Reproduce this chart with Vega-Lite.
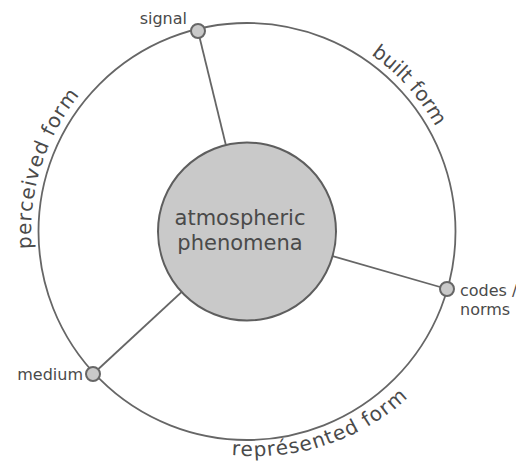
{
  "$schema": "https://vega.github.io/schema/vega-lite/v6.json",
  "width": 494,
  "height": 459,
  "autosize": {"type": "none"},
  "padding": {"left": 0, "top": 2, "right": 22, "bottom": 0},
  "background": "white",
  "config": {"view": {"stroke": null}, "text": {"font": "DejaVu Sans", "color": "#4a4a4a"}},
  "datasets": {
    "center": [{"x": 0, "y": 0}],
    "nodes": [
      {"node": "signal", "x0": 0, "y0": 0, "x": -49, "y": 200.5},
      {"node": "codes", "x0": 0, "y0": 0, "x": 200, "y": -57.5},
      {"node": "medium", "x0": 0, "y0": 0, "x": -154, "y": -142.5}
    ],
    "arcText": [
      {"label": "perceived form", "ch": "p", "th": 267.1, "r": 216, "rot": 267.1},
      {"label": "perceived form", "ch": "e", "th": 270.73, "r": 216, "rot": 270.73},
      {"label": "perceived form", "ch": "r", "th": 273.7, "r": 216, "rot": 273.7},
      {"label": "perceived form", "ch": "c", "th": 276.49, "r": 216, "rot": 276.49},
      {"label": "perceived form", "ch": "e", "th": 279.87, "r": 216, "rot": 279.87},
      {"label": "perceived form", "ch": "i", "th": 282.46, "r": 216, "rot": 282.46},
      {"label": "perceived form", "ch": "v", "th": 284.98, "r": 216, "rot": 284.98},
      {"label": "perceived form", "ch": "e", "th": 288.48, "r": 216, "rot": 288.48},
      {"label": "perceived form", "ch": "d", "th": 292.1, "r": 216, "rot": 292.1},
      {"label": "perceived form", "ch": "f", "th": 296.81, "r": 216, "rot": 296.81},
      {"label": "perceived form", "ch": "o", "th": 299.61, "r": 216, "rot": 299.61},
      {"label": "perceived form", "ch": "r", "th": 302.57, "r": 216, "rot": 302.57},
      {"label": "perceived form", "ch": "m", "th": 306.59, "r": 216, "rot": 306.59},
      {"label": "built form", "ch": "b", "th": 36.7, "r": 216, "rot": 36.7},
      {"label": "built form", "ch": "u", "th": 40.08, "r": 216, "rot": 40.08},
      {"label": "built form", "ch": "i", "th": 42.5, "r": 216, "rot": 42.5},
      {"label": "built form", "ch": "l", "th": 43.98, "r": 216, "rot": 43.98},
      {"label": "built form", "ch": "t", "th": 45.76, "r": 216, "rot": 45.76},
      {"label": "built form", "ch": "f", "th": 49.43, "r": 216, "rot": 49.43},
      {"label": "built form", "ch": "o", "th": 52.0, "r": 216, "rot": 52.0},
      {"label": "built form", "ch": "r", "th": 54.72, "r": 216, "rot": 54.72},
      {"label": "built form", "ch": "m", "th": 58.4, "r": 216, "rot": 58.4},
      {"label": "représented form", "ch": "r", "th": 182.9, "r": 224, "rot": 2.9},
      {"label": "représented form", "ch": "e", "th": 180.07, "r": 224.4, "rot": 0.07},
      {"label": "représented form", "ch": "p", "th": 176.61, "r": 225, "rot": -3.39},
      {"label": "représented form", "ch": "r", "th": 173.72, "r": 225.4, "rot": -6.28},
      {"label": "représented form", "ch": "é", "th": 170.89, "r": 225.9, "rot": -9.11},
      {"label": "représented form", "ch": "s", "th": 167.75, "r": 226.4, "rot": -12.25},
      {"label": "représented form", "ch": "e", "th": 164.62, "r": 226.9, "rot": -15.38},
      {"label": "représented form", "ch": "n", "th": 161.17, "r": 227.4, "rot": -18.83},
      {"label": "représented form", "ch": "t", "th": 158.33, "r": 227.9, "rot": -21.67},
      {"label": "représented form", "ch": "e", "th": 155.55, "r": 228.3, "rot": -24.45},
      {"label": "représented form", "ch": "d", "th": 152.1, "r": 228.8, "rot": -27.9},
      {"label": "représented form", "ch": "f", "th": 147.62, "r": 229.5, "rot": -32.38},
      {"label": "représented form", "ch": "o", "th": 144.95, "r": 230.0, "rot": -35.05},
      {"label": "représented form", "ch": "r", "th": 142.13, "r": 230.4, "rot": -37.87},
      {"label": "représented form", "ch": "m", "th": 138.3, "r": 231.0, "rot": -41.7}
    ]
  },
  "layer": [
    {
      "data": {"name": "center"},
      "mark": {"type": "point", "shape": "circle", "size": 173889, "filled": false, "stroke": "#666666", "strokeWidth": 1.8, "opacity": 1},
      "encoding": {
        "x": {"field": "x", "type": "quantitative", "scale": {"domain": [-247, 247], "nice": false, "zero": false}, "axis": null},
        "y": {"field": "y", "type": "quantitative", "scale": {"domain": [-229.5, 229.5], "nice": false, "zero": false}, "axis": null}
      }
    },
    {
      "data": {"name": "nodes"},
      "mark": {"type": "rule", "stroke": "#666666", "strokeWidth": 1.8},
      "encoding": {
        "x": {"field": "x0", "type": "quantitative", "axis": null},
        "y": {"field": "y0", "type": "quantitative", "axis": null},
        "x2": {"field": "x"},
        "y2": {"field": "y"}
      }
    },
    {
      "data": {"name": "center"},
      "mark": {"type": "point", "shape": "circle", "size": 31684, "filled": true, "fill": "#c9c9c9", "stroke": "#5e5e5e", "strokeWidth": 2, "opacity": 1},
      "encoding": {
        "x": {"field": "x", "type": "quantitative", "axis": null},
        "y": {"field": "y", "type": "quantitative", "axis": null}
      }
    },
    {
      "data": {"name": "nodes"},
      "mark": {"type": "point", "shape": "circle", "size": 196, "filled": true, "fill": "#c9c9c9", "stroke": "#666666", "strokeWidth": 2, "opacity": 1},
      "encoding": {
        "x": {"field": "x", "type": "quantitative", "axis": null},
        "y": {"field": "y", "type": "quantitative", "axis": null}
      }
    },
    {
      "data": {"name": "center"},
      "mark": {"type": "text", "text": ["atmospheric", "phenomena"], "fontSize": 21, "lineHeight": 25, "align": "center", "baseline": "alphabetic", "dx": -7, "dy": -6.5},
      "encoding": {
        "x": {"field": "x", "type": "quantitative", "axis": null},
        "y": {"field": "y", "type": "quantitative", "axis": null}
      }
    },
    {
      "data": {"name": "nodes"},
      "transform": [{"filter": "datum.node === 'signal'"}],
      "mark": {"type": "text", "fontSize": 16, "align": "right", "baseline": "alphabetic", "dx": -11, "dy": -7},
      "encoding": {
        "x": {"field": "x", "type": "quantitative", "axis": null},
        "y": {"field": "y", "type": "quantitative", "axis": null},
        "text": {"field": "node"}
      }
    },
    {
      "data": {"name": "nodes"},
      "transform": [{"filter": "datum.node === 'medium'"}],
      "mark": {"type": "text", "fontSize": 16, "align": "right", "baseline": "alphabetic", "dx": -10, "dy": 6},
      "encoding": {
        "x": {"field": "x", "type": "quantitative", "axis": null},
        "y": {"field": "y", "type": "quantitative", "axis": null},
        "text": {"field": "node"}
      }
    },
    {
      "data": {"name": "nodes"},
      "transform": [{"filter": "datum.node === 'codes'"}],
      "mark": {"type": "text", "text": ["codes /", "norms"], "fontSize": 16, "lineHeight": 19, "align": "left", "baseline": "alphabetic", "dx": 13, "dy": 7},
      "encoding": {
        "x": {"field": "x", "type": "quantitative", "axis": null},
        "y": {"field": "y", "type": "quantitative", "axis": null}
      }
    },
    {
      "data": {"name": "arcText"},
      "mark": {"type": "text", "fontSize": 20, "align": "center", "baseline": "alphabetic"},
      "encoding": {
        "theta": {"field": "th", "type": "quantitative", "scale": {"type": "linear", "domain": [0, 360], "range": [0, 6.283185307]}},
        "radius": {"field": "r", "type": "quantitative", "scale": {"type": "linear", "domain": [0, 300], "range": [0, 300], "zero": true}},
        "angle": {"field": "rot", "type": "quantitative", "scale": null},
        "text": {"field": "ch"}
      }
    }
  ]
}
